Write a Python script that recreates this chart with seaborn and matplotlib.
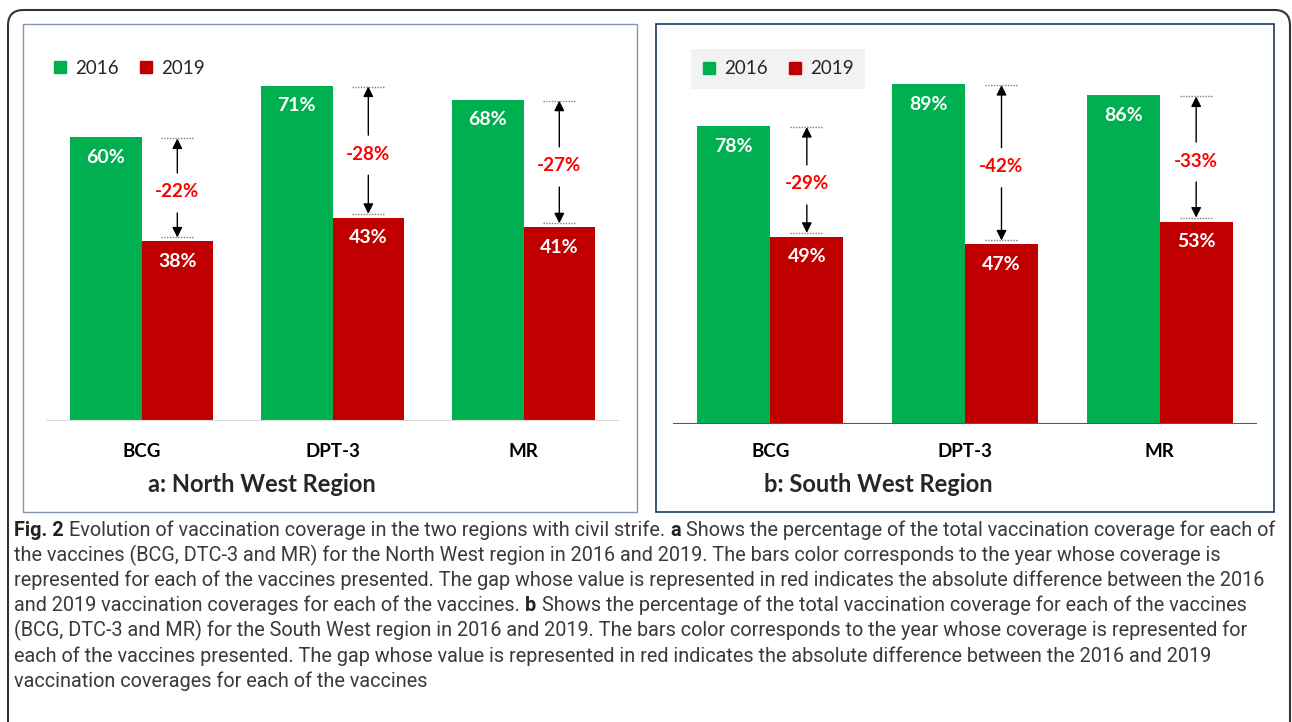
import matplotlib
matplotlib.use('Agg')
import matplotlib.pyplot as plt
import pandas as pd
import seaborn as sns
from matplotlib.lines import Line2D
from matplotlib.patches import Rectangle, FancyBboxPatch

# Data
vaccines = ['BCG', 'DPT-3', 'MR']
years = ['2016', '2019']
nw_2016 = [60, 71, 68]
nw_2019 = [38, 43, 41]
sw_2016 = [78, 89, 86]
sw_2019 = [49, 47, 53]

year_colors = {'2016': '#00b050', '2019': '#c00000'}

caption = [
    [('Fig. 2', True), ('Evolution of vaccination coverage in the two regions with civil strife.', False),
     ('a', True), ('Shows the percentage of the total vaccination coverage for each of', False)],
    [('the vaccines (BCG, DTC-3 and MR) for the North West region in 2016 and 2019. The bars color corresponds to the year whose coverage is', False)],
    [('represented for each of the vaccines presented. The gap whose value is represented in red indicates the absolute difference between the 2016', False)],
    [('and 2019 vaccination coverages for each of the vaccines.', False), ('b', True),
     ('Shows the percentage of the total vaccination coverage for each of the vaccines', False)],
    [('(BCG, DTC-3 and MR) for the South West region in 2016 and 2019. The bars color corresponds to the year whose coverage is represented for', False)],
    [('each of the vaccines presented. The gap whose value is represented in red indicates the absolute difference between the 2016 and 2019', False)],
    [('vaccination coverages for each of the vaccines', False)],
]

sns.set_style('white')
plt.rcParams['font.family'] = ['Lato', 'DejaVu Sans']

W, H = 1292, 722
fig = plt.figure(figsize=(W / 100, H / 100), dpi=100)


def fx(px):
    return px / W


def fy(py):
    return 1 - py / H


def draw_panel(box, ymax, cov16, cov19, base_color, base_lw, title, title_x, pad):
    left, top, right, bottom = box
    ax = fig.add_axes([fx(left), fy(bottom), fx(right) - fx(left), fy(top) - fy(bottom)])
    df = pd.DataFrame({
        'vaccine': vaccines * 2,
        'year': [years[0]] * 3 + [years[1]] * 3,
        'coverage': cov16 + cov19,
    })
    sns.barplot(data=df, x='vaccine', y='coverage', hue='year', palette=year_colors,
                width=0.75, saturation=1, errorbar=None, linewidth=0, legend=False, ax=ax)
    ax.set_xlim(-0.5, 2.5)
    ax.set_ylim(0, ymax)
    ax.axhline(0, color=base_color, lw=base_lw, zorder=5)
    for s in ax.spines.values():
        s.set_visible(False)
    ax.set_yticks([])
    ax.set_xlabel('')
    ax.set_ylabel('')
    ax.tick_params(axis='x', length=0, pad=pad, labelsize=13.5, labelcolor='black')
    for lbl in ax.get_xticklabels():
        lbl.set_fontweight('bold')

    ppu = (bottom - top) / ymax  # pixels per unit
    off = 0.1875
    for i, (g, r) in enumerate(zip(cov16, cov19)):
        ax.annotate(f'{g}%', (i - off, g), xytext=(0, -14.4), textcoords='offset points',
                    ha='center', va='center', color='white', fontsize=14, fontweight='bold')
        ax.annotate(f'{r}%', (i + off, r), xytext=(0, -14.4), textcoords='offset points',
                    ha='center', va='center', color='white', fontsize=14, fontweight='bold')
        x = i + off
        upper = g - 1 / ppu
        lower = r + 4 / ppu
        for v in (upper, lower):
            ax.plot([x - 0.085, x + 0.085], [v, v], color='#808080', lw=1, ls=(0, (1, 1)))
        mid = (upper + lower) / 2 - 4 / ppu
        ax.text(x, mid, f'-{g - r}%', color='#ff0000', fontsize=13.5, fontweight='bold',
                ha='center', va='center')
        arrow = dict(arrowstyle='-|>,head_length=0.5,head_width=0.25', color='black', lw=1,
                     mutation_scale=12, shrinkA=0, shrinkB=0)
        ax.annotate('', xy=(x, upper), xytext=(x, mid + 19 / ppu), arrowprops=arrow)
        ax.annotate('', xy=(x, lower), xytext=(x, mid - 21 / ppu), arrowprops=arrow)

    fig.text(fx(title_x), fy(485), title, fontsize=17, fontweight='bold', ha='center', va='center')
    return ax


draw_panel((46, 43, 619, 421), 80, nw_2016, nw_2019, '#d9d9d9', 1.5,
           'a: North West Region', 262, 16)
draw_panel((673, 42, 1257, 424), 100, sw_2016, sw_2019, '#595959', 2.2,
           'b: South West Region', 878, 14)

# Legends
handles = [Line2D([], [], marker='s', ls='none', markersize=8, color=year_colors[y], label=y) for y in years]
fig.legend(handles=handles, loc='center left', bbox_to_anchor=(fx(50), fy(68)), ncol=2,
           frameon=False, fontsize=13.5, handlelength=0.7, handletextpad=0.45,
           columnspacing=1.1, borderaxespad=0, borderpad=0.2)
leg2 = fig.legend(handles=handles, loc='upper left', bbox_to_anchor=(fx(691), fy(49)), ncol=2,
                  frameon=True, fancybox=False, fontsize=13.5, handlelength=0.7, handletextpad=0.45,
                  columnspacing=1.1, borderaxespad=0, borderpad=0.6)
leg2.get_frame().set_facecolor('#f2f2f2')
leg2.get_frame().set_edgecolor('none')
leg2.get_frame().set_alpha(1)

# Panel frames and outer rounded frame
fig.patches.append(Rectangle((fx(23), fy(512)), fx(637) - fx(23), fy(24) - fy(512),
                             transform=fig.transFigure, fill=False, ec='#8496b0', lw=1))
fig.patches.append(Rectangle((fx(656), fy(512)), fx(1274) - fx(656), fy(24) - fy(512),
                             transform=fig.transFigure, fill=False, ec='#203864', lw=1.2))
fig.patches.append(FancyBboxPatch((fx(8), -0.05), fx(1290) - fx(8), fy(10) + 0.05,
                                  boxstyle='round,pad=0,rounding_size=0.012', mutation_aspect=W / H,
                                  transform=fig.transFigure, fill=False, ec='#333333', lw=1.5))

# Caption, laid out run by run so bold words sit inline
cap_family = ['Roboto', 'DejaVu Sans']
renderer = fig.canvas.get_renderer()


def place_line(runs, y, size):
    x = 14
    arts = []
    for txt, bold in runs:
        t = fig.text(fx(x), fy(y), txt, fontsize=size, family=cap_family,
                     fontweight='bold' if bold else 'normal',
                     color='#222222' if bold else '#3a3a3a', ha='left', va='center')
        bb = t.get_window_extent(renderer)
        x = bb.x1 + size * 0.27 * 100 / 72
        arts.append(t)
    return x - size * 0.27 * 100 / 72, arts


end, arts = place_line(caption[0], 530, 14)
for a in arts:
    a.remove()
size = 14 * (1283 - 14) / (end - 14)
for k, runs in enumerate(caption):
    place_line(runs, 530 + k * 25.2, size)

fig.savefig('out.png', dpi=100)
